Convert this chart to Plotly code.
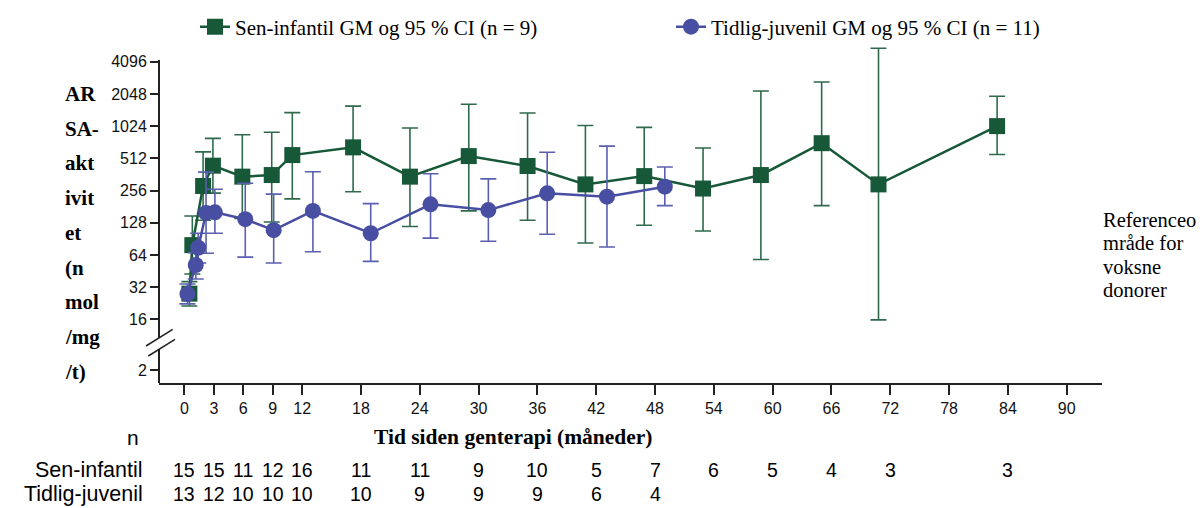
import numpy as np
import plotly.graph_objects as go

# ---------------- data ----------------
# Sen-infantil: geometric mean ARSA activity (nmol/mg/t) and 95 % CI
sen_month = [0.5, 0.8, 1.9, 2.9, 5.9, 8.9, 11.0, 17.2, 23.0, 29.0, 35.0, 40.9, 46.9, 52.9, 58.8, 65.0, 70.8, 82.9]
sen_gm = [27.8, 79, 282, 437, 345, 357, 549, 648, 345, 537, 434, 292, 349, 267, 357, 709, 292, 1024]
sen_lo = [21.3, 42.5, 135, 242, 140, 130, 214, 249, 118, 165, 135, 82.7, 121, 107, 58, 185, 15.8, 556]
sen_hi = [36, 148, 588, 787, 849, 898, 1370, 1574, 982, 1640, 1360, 1038, 996, 639, 2180, 2647, 5480, 1950]

# Tidlig-juvenil
tj_month = [0.3, 1.15, 1.4, 2.2, 3.1, 6.2, 9.1, 13.1, 19.0, 25.1, 31.0, 37.0, 43.1, 49.0]
tj_gm = [27.6, 51.5, 74.7, 158, 160, 138, 109, 165, 102, 190, 168, 241, 224, 278]
tj_lo = [22.3, 38.1, 53.7, 66.3, 102, 61, 53.8, 68.6, 55.7, 91.8, 86, 100, 76, 185]
tj_hi = [34.2, 67.2, 102, 380, 263, 299, 237, 383, 193, 367, 329, 584, 666, 425]

# reference range for adult donors
ref_low = 30
ref_high = 209

# axis ticks
x_ticks = [0, 3, 6, 9, 12, 18, 24, 30, 36, 42, 48, 54, 60, 66, 72, 78, 84, 90]
y_ticks = [16, 32, 64, 128, 256, 512, 1024, 2048, 4096]
y_break_label = "2"

# n table
n_sen_month = [0, 3, 6, 9, 12, 18, 24, 30, 36, 42, 48, 54, 60, 66, 72, 84]
n_sen = [15, 15, 11, 12, 16, 11, 11, 9, 10, 5, 7, 6, 5, 4, 3, 3]
n_tj_month = [0, 3, 6, 9, 12, 18, 24, 30, 36, 42, 48]
n_tj = [13, 12, 10, 10, 10, 10, 9, 9, 9, 6, 4]

legend_sen = "Sen-infantil GM og 95 % CI (n = 9)"
legend_tj = "Tidlig-juvenil GM og 95 % CI (n = 11)"
y_title_lines = ["AR", "SA-", "akt", "ivit", "et", "(n", "mol", "/mg", "/t)"]
x_title = "Tid siden genterapi (måneder)"
ref_text_lines = ["Referenceo", "mråde for", "voksne", "donorer"]

# ---------------- layout geometry ----------------
W, H = 1203, 508
ML, MR, MT, MB = 159, 101, 40, 125
PW = W - ML - MR
PH = H - MT - MB
X_RANGE = [-2.6, 93.6]
Y_RANGE = [0.6087, 3.8153]  # log10
# position used for the "2" tick below the axis break
y_break_val = 10 ** (Y_RANGE[0] + (383 - 370) / PH * (Y_RANGE[1] - Y_RANGE[0]))


def px(p):
    return (p - ML) / PW


def py(p):
    return (H - MB - p) / PH


GREEN = "#165837"
GREEN_ERR = "#2f6a4c"
BLUE = "#484ea2"
BLUE_ERR = "#5a5fb0"
SERIF = "Liberation Serif"
SANS = "Liberation Sans"

fig = go.Figure()

fig.add_trace(go.Scatter(
    x=sen_month, y=sen_gm, mode="lines+markers", name=legend_sen, legend="legend",
    line=dict(color=GREEN, width=2.5),
    marker=dict(symbol="square", size=16, color=GREEN),
    error_y=dict(type="data", symmetric=False,
                 array=[h - g for h, g in zip(sen_hi, sen_gm)],
                 arrayminus=[g - l for g, l in zip(sen_gm, sen_lo)],
                 color=GREEN_ERR, thickness=1.6, width=8),
))
fig.add_trace(go.Scatter(
    x=tj_month, y=tj_gm, mode="lines+markers", name=legend_tj, legend="legend2",
    line=dict(color=BLUE, width=2.5),
    marker=dict(symbol="circle", size=16, color=BLUE),
    error_y=dict(type="data", symmetric=False,
                 array=[h - g for h, g in zip(tj_hi, tj_gm)],
                 arrayminus=[g - l for g, l in zip(tj_gm, tj_lo)],
                 color=BLUE_ERR, thickness=1.6, width=8),
))

shapes = []
# reference band
shapes.append(dict(type="rect", xref="x", yref="y", x0=X_RANGE[0], x1=90,
                   y0=np.log10(ref_low), y1=np.log10(ref_high),
                   fillcolor="#d9d9d9", line=dict(width=0), layer="below"))
# bracket
bx1, bx2 = px(1075), px(1083.3)
shapes.append(dict(type="path", xref="paper", yref="y",
                   path=f"M {bx1},{np.log10(ref_high)} L {bx2},{np.log10(ref_high)} "
                        f"L {bx2},{np.log10(ref_low)} L {bx1},{np.log10(ref_low)}",
                   line=dict(color=GREEN, width=2.2)))
# broken y axis line
for a, b in [(60, 338), (349, 383)]:
    shapes.append(dict(type="line", xref="paper", yref="paper",
                       x0=0, x1=0, y0=py(a), y1=py(b),
                       line=dict(color="#222", width=2)))
for (xa, ya, xb, yb) in [(146, 346, 172.7, 329.3), (148.3, 356, 175, 339.3)]:
    shapes.append(dict(type="line", xref="paper", yref="paper",
                       x0=px(xa), y0=py(ya), x1=px(xb), y1=py(yb),
                       line=dict(color="#222", width=1.5)))

ann = []
for i, t in enumerate(y_title_lines):
    ann.append(dict(text=t, xref="paper", yref="paper", x=px(63), y=py(94 + i * 34.7),
                    xanchor="left", yanchor="middle", showarrow=False,
                    font=dict(family=SERIF, size=21, color="black", weight="bold")))
ann.append(dict(text=f"<b>{x_title}</b>", xref="paper", yref="paper", x=px(513), y=py(437),
                xanchor="center", yanchor="middle", showarrow=False,
                font=dict(family=SERIF, size=21.5, color="black")))
for i, t in enumerate(ref_text_lines):
    ann.append(dict(text=t, xref="paper", yref="paper", x=px(1101), y=py(220 + i * 23.4),
                    xanchor="left", yanchor="middle", showarrow=False,
                    font=dict(family=SERIF, size=20.5, color="black")))
# n table
ann.append(dict(text="n", xref="paper", yref="paper", x=px(133), y=py(437),
                xanchor="center", yanchor="middle", showarrow=False,
                font=dict(family=SANS, size=21, color="black")))
for label, ypix in [("Sen-infantil", 470), ("Tidlig-juvenil", 494)]:
    ann.append(dict(text=label, xref="paper", yref="paper", x=px(145), y=py(ypix),
                    xanchor="right", yanchor="middle", showarrow=False,
                    font=dict(family=SANS, size=21.5, color="black")))
for months, counts, ypix in [(n_sen_month, n_sen, 470), (n_tj_month, n_tj, 494)]:
    for m, c in zip(months, counts):
        ann.append(dict(text=str(c), xref="x", yref="paper", x=m, y=py(ypix),
                        xanchor="center", yanchor="middle", showarrow=False,
                        font=dict(family=SANS, size=19.5, color="black")))

legend_common = dict(orientation="h", xref="container", yref="container",
                     y=1 - 27 / H, xanchor="left", yanchor="middle",
                     font=dict(family=SERIF, size=21, color="black"),
                     bgcolor="rgba(0,0,0,0)")

fig.update_layout(
    width=W, height=H,
    margin=dict(l=ML, r=MR, t=MT, b=MB, pad=0, autoexpand=False),
    paper_bgcolor="white", plot_bgcolor="white",
    shapes=shapes, annotations=ann,
    showlegend=True,
    legend=dict(x=195 / W, **legend_common),
    legend2=dict(x=671 / W, **legend_common),
    xaxis=dict(range=X_RANGE, tickvals=x_ticks, ticktext=[str(v) for v in x_ticks],
               showgrid=False, zeroline=False, showline=True, linecolor="#222", linewidth=2,
               ticks="outside", ticklen=10, tickwidth=1.5, tickcolor="#222",
               tickfont=dict(family=SANS, size=16, color="#111")),
    yaxis=dict(type="log", range=Y_RANGE,
               tickvals=[y_break_val] + y_ticks,
               ticktext=[y_break_label] + [str(v) for v in y_ticks],
               showgrid=False, zeroline=False, showline=False,
               ticks="outside", ticklen=8, tickwidth=1.5, tickcolor="#222",
               tickfont=dict(family=SANS, size=16, color="#111")),
)

fig.write_html("out.html", config={"displayModeBar": False},
               post_script="document.body.style.margin='0';")
